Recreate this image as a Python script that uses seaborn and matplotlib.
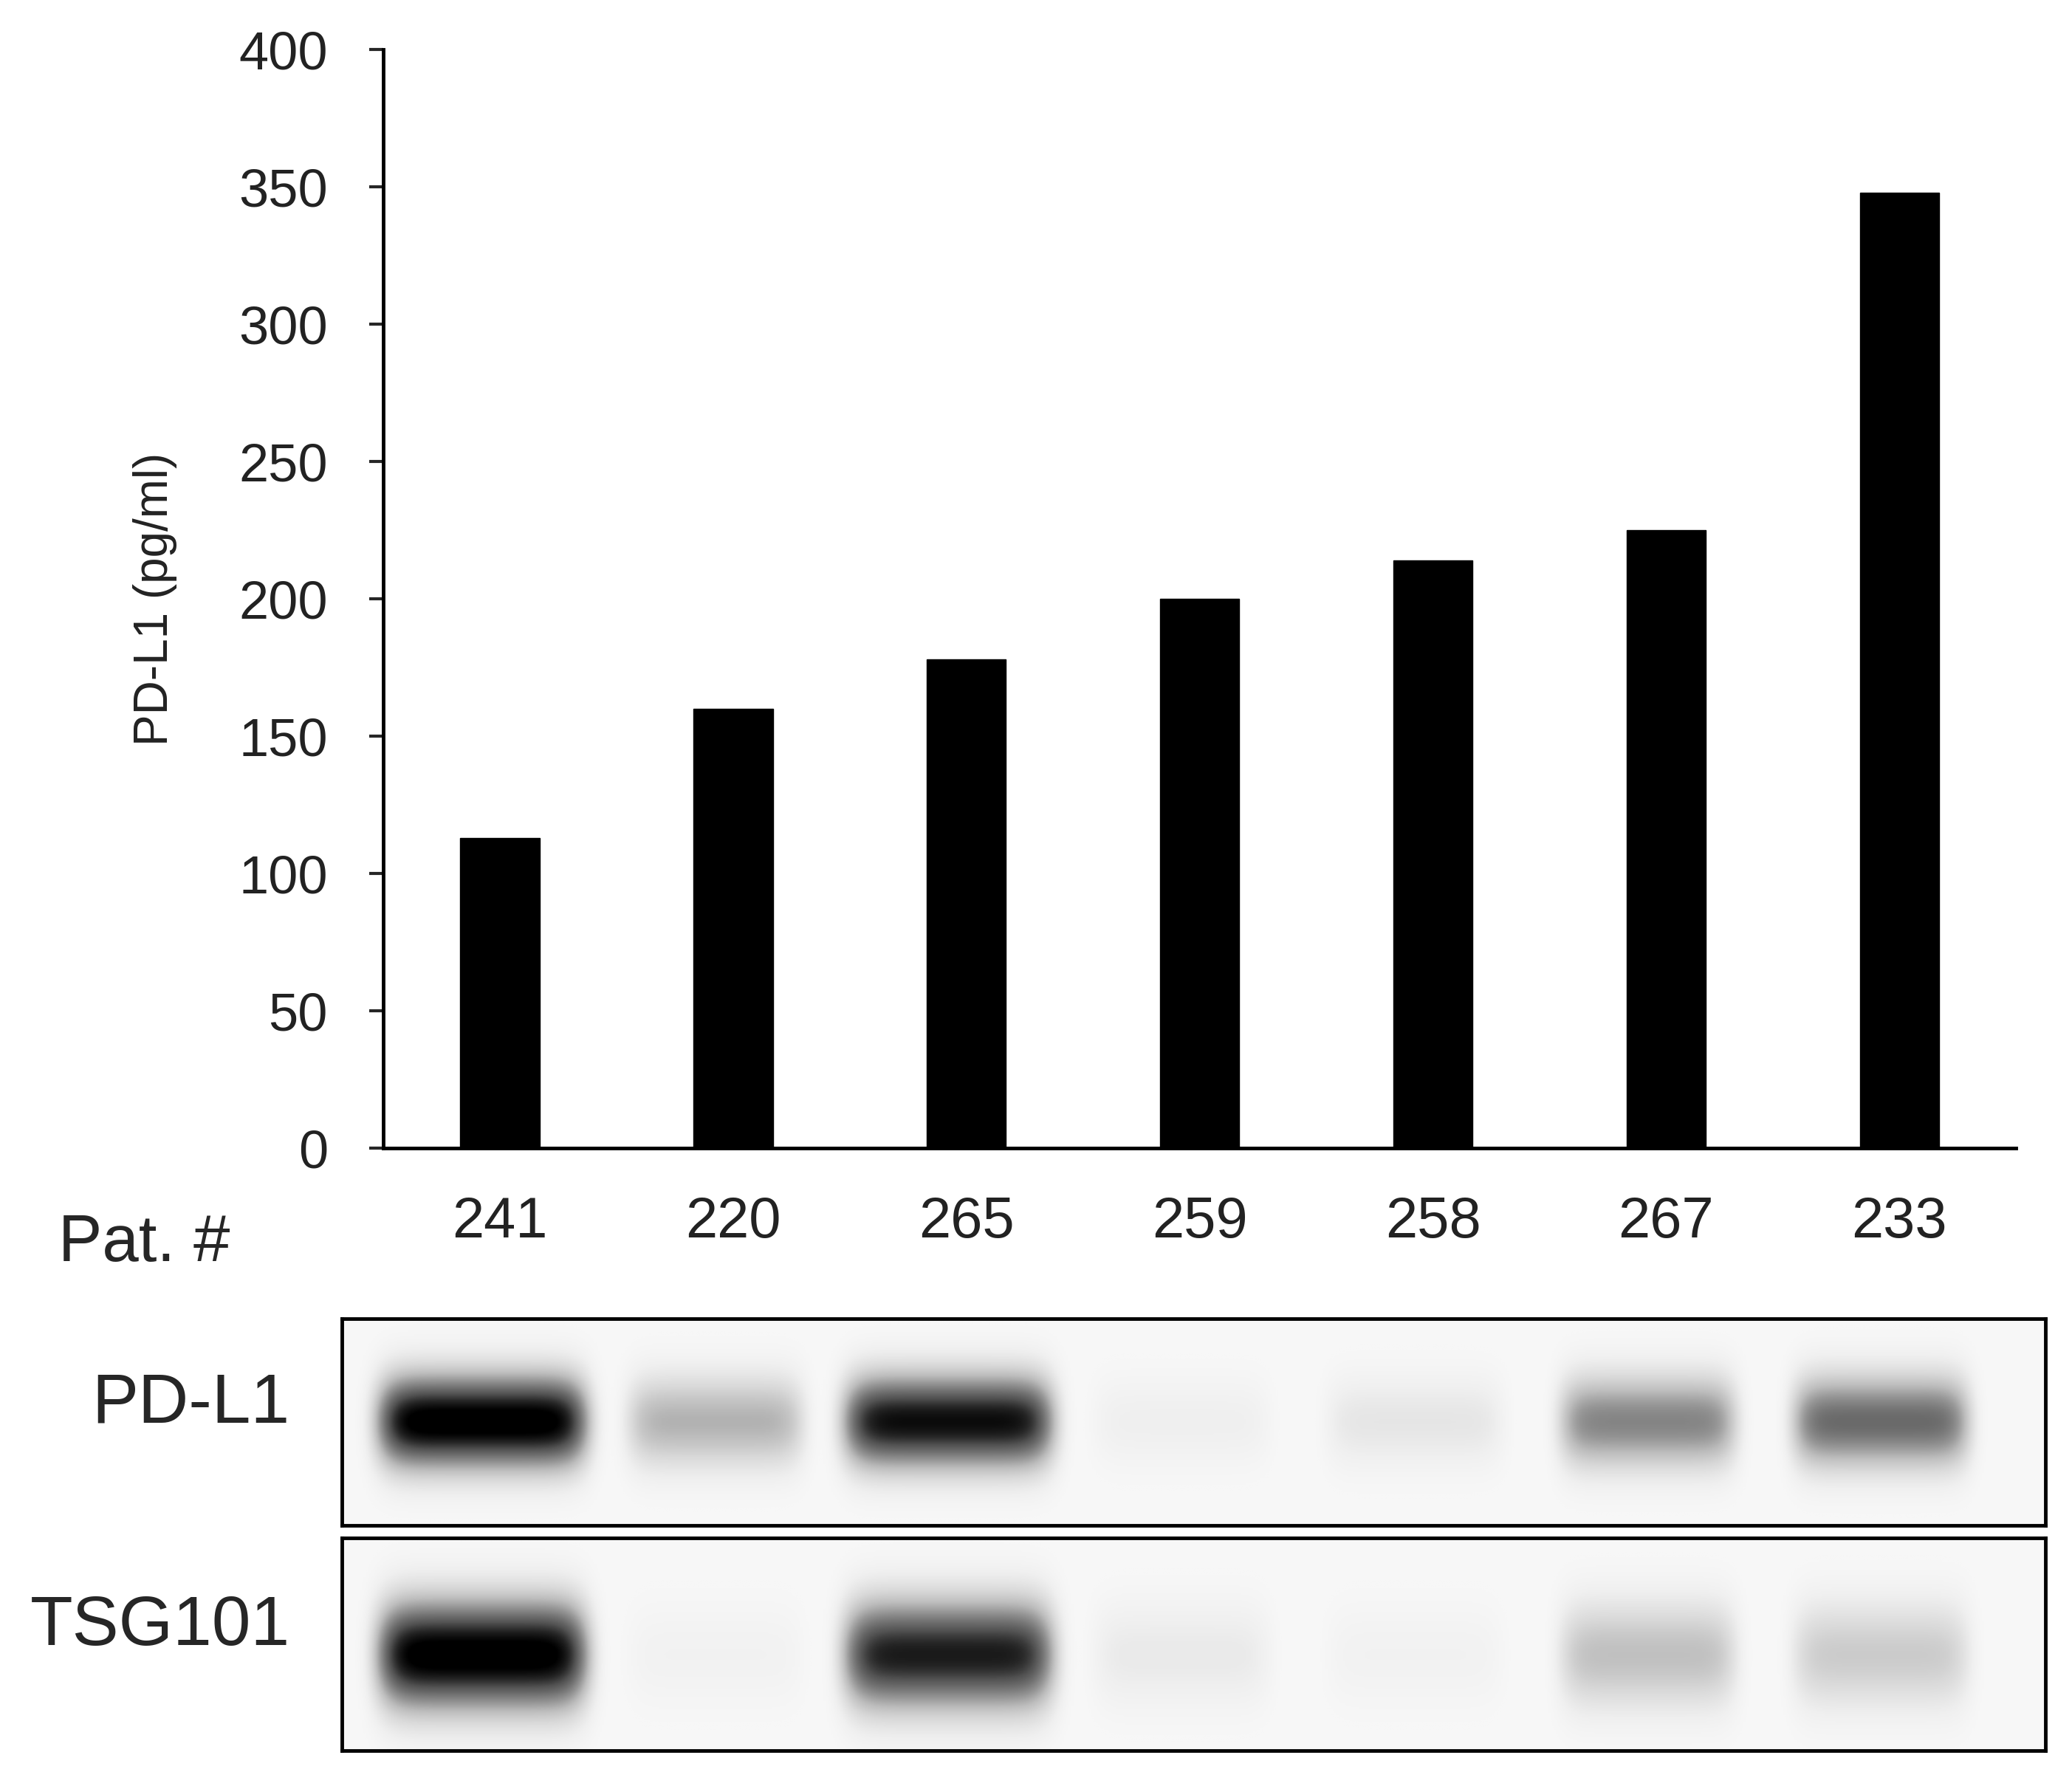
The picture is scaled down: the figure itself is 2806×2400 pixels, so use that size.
import numpy as np
import pandas as pd
import matplotlib
matplotlib.use("Agg")
import matplotlib.pyplot as plt
import seaborn as sns

patients = ["241", "220", "265", "259", "258", "267", "233"]
pdl1_pg_ml = [113, 160, 178, 200, 214, 225, 348]
yticks = [0, 50, 100, 150, 200, 250, 300, 350, 400]
blot_pdl1 = [1.0, 0.35, 0.9, 0.07, 0.12, 0.5, 0.6]
blot_tsg101 = [1.0, 0.05, 0.85, 0.1, 0.05, 0.3, 0.25]

sns.set_theme(style="white")
plt.rcParams['font.family'] = ['Liberation Sans', 'DejaVu Sans']

fig = plt.figure(figsize=(28.06, 24), dpi=100)
ax = fig.add_axes([0.185, 0.352, 0.788, 0.62])
df = pd.DataFrame({"pat": patients, "val": pdl1_pg_ml})
sns.barplot(data=df, x="pat", y="val", color="black", width=0.34, ax=ax,
            saturation=1, edgecolor="black")
ax.set_xlim(-0.5, 6.5)
ax.set_ylim(0, 400)
ax.set_yticks(yticks)
ax.tick_params(axis="y", labelsize=52, length=14, width=3, direction="out", left=True, pad=40)
ax.tick_params(axis="x", labelsize=56, length=0, pad=46)
sns.despine(ax=ax)
for s in ["left", "bottom"]:
    ax.spines[s].set_linewidth(3.5)
    ax.spines[s].set_color("black")
for t in ax.get_xticklabels() + ax.get_yticklabels():
    t.set_color("#222222")
ax.set_xlabel("")
ax.set_ylabel("PD-L1 (pg/ml)", fontsize=46, labelpad=60, color="#222222")
fig.text(0.028, 0.298, "Pat. #", fontsize=64, ha="left", va="center")

def blot(rect, intens, label, sy, yc):
    bax = fig.add_axes(rect)
    xs = np.linspace(0, 7.3, 900)
    ys = np.linspace(0, 1, 160)
    X, Y = np.meshgrid(xs, ys)
    img = np.zeros_like(X) + 0.06
    for i, v in enumerate(intens):
        cx = 0.6 + i * 1.0
        w = 0.38 if v < 0.8 else 0.45
        img += v * np.exp(-((X - cx) / w) ** 8) * np.exp(-((Y - yc) / sy) ** 2)
    bax.imshow(np.clip(img, 0, 1), cmap="Greys", vmin=0, vmax=1, aspect="auto",
               extent=[0, 7.3, 0, 1], origin="lower", interpolation="bilinear")
    bax.set_xticks([]); bax.set_yticks([])
    for s in bax.spines.values():
        s.set_linewidth(3.5); s.set_color("black"); s.set_visible(True)
    fig.text(0.14, rect[1] + rect[3] / 2 + 0.01, label, fontsize=68,
             ha="right", va="center")

blot([0.165, 0.139, 0.822, 0.117], blot_pdl1, "PD-L1", 0.22, 0.5)
blot([0.165, 0.012, 0.822, 0.12], blot_tsg101, "TSG101", 0.25, 0.45)

fig.savefig("out.png", dpi=100, facecolor="white")
